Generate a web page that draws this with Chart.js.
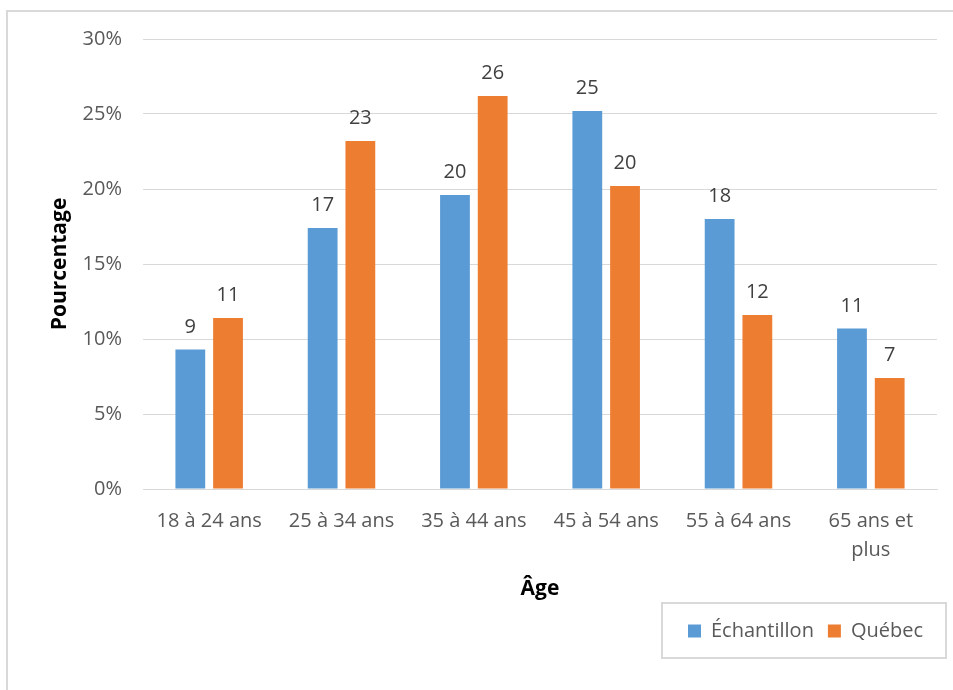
<!DOCTYPE html>
<html>
<head>
<meta charset="utf-8">
<script src="https://cdn.jsdelivr.net/npm/chart.js@4"></script>
<style>
  html, body { margin: 0; padding: 0; background: #fff; overflow: hidden; }
  #frame { position: absolute; left: 6px; top: 10px; width: 960px; height: 700px; border: 2px solid #d9d9d9; box-sizing: border-box; }
  #ageChart { position: absolute; left: 0; top: 0; }
</style>
</head>
<body>
<div id="frame"></div>
<canvas id="ageChart" width="953" height="690"></canvas>
<script>
// Groupes d'âge
var ageGroups = ['18 à 24 ans', '25 à 34 ans', '35 à 44 ans', '45 à 54 ans', '55 à 64 ans', ['65 ans et', 'plus']];

// Pourcentages par groupe
var echantillon = [9.3, 17.4, 19.6, 25.2, 18.0, 10.7];
var quebec = [11.4, 23.2, 26.2, 20.2, 11.6, 7.4];

// Axe des y
var yTicks = [0, 5, 10, 15, 20, 25, 30];

var FONT = "'Open Sans', 'Noto Sans', sans-serif";
var GREY = '#595959';

// Valeurs arrondies au-dessus des barres
var barValues = {
    id: 'barValues',
    afterDatasetsDraw: function (chart) {
        var ctx = chart.ctx;
        ctx.save();
        ctx.font = '20px ' + FONT;
        ctx.fillStyle = '#404040';
        ctx.textAlign = 'center';
        ctx.textBaseline = 'alphabetic';
        chart.data.datasets.forEach(function (ds, i) {
            chart.getDatasetMeta(i).data.forEach(function (bar, j) {
                ctx.fillText(Math.round(ds.data[j]), bar.x, bar.y - 17);
            });
        });
        ctx.restore();
    }
};

// Cadre autour de la légende
var legendFrame = {
    id: 'legendFrame',
    afterDraw: function (chart) {
        var boxes = chart.legend.legendHitBoxes;
        if (!boxes || !boxes.length) return;
        var first = boxes[0];
        var ctx = chart.ctx;
        var left = first.left - 26;
        var right = chart.legend.right + 9;
        var midY = first.top + first.height / 2;
        ctx.save();
        ctx.strokeStyle = '#d9d9d9';
        ctx.lineWidth = 2;
        ctx.strokeRect(left, midY - 28, right - left, 55);
        ctx.restore();
    }
};

var ctx = document.getElementById('ageChart').getContext('2d');

var ageChart = new Chart(ctx, {
    type: 'bar',
    data: {
        labels: ageGroups,
        datasets: [{
            label: 'Échantillon',
            data: echantillon,
            backgroundColor: '#5b9bd5'
        }, {
            label: 'Québec',
            data: quebec,
            backgroundColor: '#ed7d31'
        }]
    },
    options: {
        responsive: false,
        animation: false,
        categoryPercentage: 0.57,
        barPercentage: 0.79,
        layout: { padding: { left: 20, right: 16, top: 39, bottom: 39 } },
        plugins: {
            tooltip: { enabled: false },
            legend: {
                position: 'bottom',
                align: 'end',
                labels: {
                    boxWidth: 13,
                    boxHeight: 13,
                    color: GREY,
                    font: { family: FONT, size: 20 },
                    padding: 14
                }
            }
        },
        scales: {
            x: {
                grid: { display: false },
                border: { display: true, color: '#d9d9d9' },
                ticks: {
                    color: GREY,
                    font: { family: FONT, size: 20, lineHeight: 1.45 },
                    padding: 10,
                    maxRotation: 0,
                    autoSkip: false
                },
                title: {
                    display: true,
                    text: 'Âge',
                    color: '#000',
                    font: { family: FONT, size: 21, weight: 'bold' },
                    padding: { top: 0, bottom: 5 }
                },
                afterFit: function (scale) { scale.height = 118; }
            },
            y: {
                min: 0,
                max: 30,
                afterBuildTicks: function (scale) {
                    scale.ticks = yTicks.map(function (v) { return { value: v }; });
                },
                grid: { color: '#d9d9d9', drawTicks: false },
                border: { display: false },
                ticks: {
                    color: GREY,
                    font: { family: FONT, size: 20 },
                    padding: 21,
                    callback: function (v) { return v + '%'; }
                },
                title: {
                    display: true,
                    text: 'Pourcentage',
                    color: '#000',
                    font: { family: FONT, size: 21, weight: 'bold' },
                    padding: { top: 27, bottom: 0 }
                },
                afterFit: function (scale) { scale.width = 123; }
            }
        }
    },
    plugins: [barValues, legendFrame]
});
</script>
</body>
</html>
